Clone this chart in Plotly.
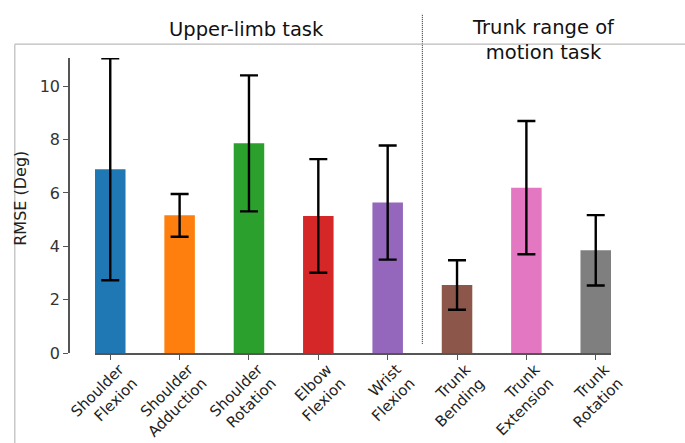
import plotly.graph_objects as go

categories = ["Shoulder<br>Flexion", "Shoulder<br>Adduction", "Shoulder<br>Rotation",
              "Elbow<br>Flexion", "Wrist<br>Flexion", "Trunk<br>Bending",
              "Trunk<br>Extension", "Trunk<br>Rotation"]
rmse_mean = [6.89, 5.16, 7.86, 5.14, 5.64, 2.55, 6.20, 3.85]
rmse_sd = [4.16, 0.80, 2.55, 2.13, 2.14, 0.93, 2.50, 1.32]
bar_colors = ["#1f77b4", "#ff7f0e", "#2ca02c", "#d62728",
              "#9467bd", "#8c564b", "#e377c2", "#7f7f7f"]
y_ticks = [0, 2, 4, 6, 8, 10]
group_titles = ["Upper-limb task", "Trunk range of<br>motion task"]
group_split = 4.5

BAR_W = 0.44
x_idx = list(range(len(categories)))

fig = go.Figure()
fig.add_trace(go.Bar(
    x=x_idx, y=rmse_mean, width=BAR_W,
    marker=dict(color=bar_colors, line=dict(width=0)),
    error_y=dict(type="data", array=rmse_sd, visible=True,
                 color="black", thickness=2.4, width=9),
    showlegend=False,
))

font_family = "DejaVu Sans, Verdana, sans-serif"
axis_col = "#555555"

fig.update_layout(
    width=685, height=443,
    margin=dict(l=69, r=74, t=58, b=90),
    paper_bgcolor="white", plot_bgcolor="white",
    font=dict(family=font_family, size=16, color="#222222"),
    xaxis=dict(
        domain=[26 / 542, 1],
        range=[-BAR_W / 2, len(categories) - 1 + BAR_W / 2],
        tickmode="array", tickvals=x_idx, ticktext=categories,
        tickangle=-45, ticks="outside", ticklen=5, tickcolor=axis_col,
        ticklabelshift=9, ticklabelstandoff=-5,
        showline=True, linecolor=axis_col, linewidth=1.6,
        showgrid=False, zeroline=False, automargin=False,
        tickfont=dict(size=15, color="#222222"),
    ),
    yaxis=dict(
        anchor="free", position=0,
        range=[0, 11.06],
        tickmode="array", tickvals=y_ticks,
        ticks="outside", ticklen=5, tickcolor=axis_col,
        showline=True, linecolor=axis_col, linewidth=1.6,
        showgrid=False, zeroline=False, automargin=False,
        tickfont=dict(size=16, color="#333333"),
    ),
)

# y-axis title
fig.add_annotation(x=-0.0885, y=0.523, xref="paper", yref="paper",
                   text="RMSE (Deg)", textangle=-90, showarrow=False,
                   font=dict(size=16, color="#222222"),
                   xanchor="center", yanchor="middle")

# group titles
fig.add_annotation(x=0.328, y=1.096, xref="paper", yref="paper",
                   text=group_titles[0], showarrow=False,
                   font=dict(size=19.5, color="#111111"),
                   xanchor="center", yanchor="middle")
fig.add_annotation(x=0.876, y=1.062, xref="paper", yref="paper",
                   text=group_titles[1], showarrow=False,
                   font=dict(size=19.5, color="#111111"),
                   xanchor="center", yanchor="middle")

# dotted separator between groups
fig.add_shape(type="line", xref="x", yref="paper",
              x0=group_split, x1=group_split, y0=0.031, y1=1.15,
              line=dict(color="#222222", width=1, dash="1px,1px"))

# light gray frame (top and left)
fig.add_shape(type="line", xref="paper", yref="paper",
              x0=-0.1, x1=1.14, y0=1.047, y1=1.047,
              line=dict(color="#bbbbbb", width=1.2))
fig.add_shape(type="line", xref="paper", yref="paper",
              x0=-0.1, x1=-0.1, y0=1.047, y1=-0.32,
              line=dict(color="#bbbbbb", width=1.2))

fig.write_html("out.html", config={"displayModeBar": False},
               post_script="document.body.style.margin='0';document.body.style.overflow='hidden';")
